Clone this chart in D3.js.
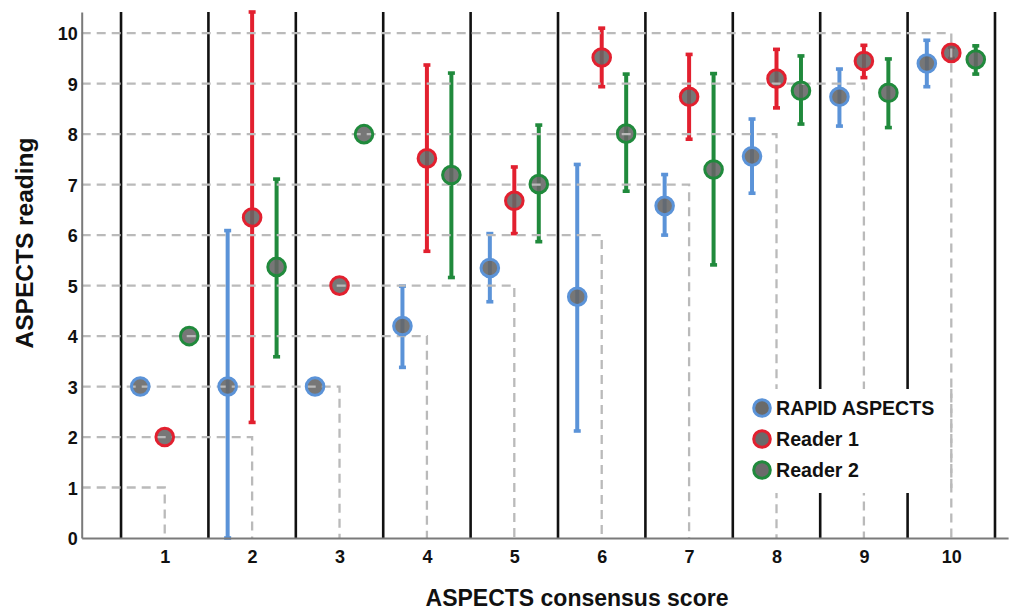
<!DOCTYPE html>
<html>
<head>
<meta charset="utf-8">
<script src="https://cdn.jsdelivr.net/npm/d3@7"></script>
<style>
  html, body { margin: 0; padding: 0; background: #fff; }
  svg { display: block; }
  text { font-family: "Liberation Sans", Arial, sans-serif; font-weight: bold; fill: #111; }
</style>
</head>
<body>
<svg id="chart" width="1023" height="612"></svg>
<script>
// ---- data ----
const categories = [1, 2, 3, 4, 5, 6, 7, 8, 9, 10];
const seriesNames = ["RAPID ASPECTS", "Reader 1", "Reader 2"];

const rapidMean = [3.0, 3.0, 3.0, 4.2, 5.35, 4.78, 6.58, 7.56, 8.74, 9.4];
const rapidLow  = [null, 0.0, null, 3.38, 4.68, 2.12, 6.0, 6.83, 8.16, 8.94];
const rapidHigh = [null, 6.09, null, 4.99, 6.03, 7.4, 7.2, 8.3, 9.29, 9.86];

const reader1Mean = [2.0, 6.35, 5.0, 7.52, 6.68, 9.52, 8.74, 9.1, 9.45, 9.61];
const reader1Low  = [null, 2.29, null, 5.68, 6.03, 8.94, 7.9, 8.52, 9.12, 9.5];
const reader1High = [null, 10.42, null, 9.37, 7.35, 10.1, 9.58, 9.68, 9.76, 9.72];

const reader2Mean = [4.0, 5.37, 8.0, 7.19, 7.01, 8.01, 7.3, 8.86, 8.82, 9.48];
const reader2Low  = [null, 3.59, null, 5.16, 5.87, 6.87, 5.41, 8.2, 8.13, 9.19];
const reader2High = [null, 7.11, null, 9.21, 8.18, 9.19, 9.2, 9.55, 9.49, 9.75];

const yTicks = [0, 1, 2, 3, 4, 5, 6, 7, 8, 9, 10];
const separators = [0.5, 1.5, 2.5, 3.5, 4.5, 5.5, 6.5, 7.5, 8.5, 9.5, 10.5];

// ---- style ----
const colors = ["#5b93d8", "#e2202f", "#208a3c"];
const offsets = [-0.28, 0, 0.28];

const svg = d3.select("#chart");
const x = d3.scaleLinear().domain([0.05, 10.65]).range([81.7, 1008.1]);
const y = d3.scaleLinear().domain([0, 10.42]).range([538, 12]);

const series = [
  { name: seriesNames[0], mean: rapidMean, low: rapidLow, high: rapidHigh },
  { name: seriesNames[1], mean: reader1Mean, low: reader1Low, high: reader1High },
  { name: seriesNames[2], mean: reader2Mean, low: reader2Low, high: reader2High }
];

const points = [];
series.forEach((s, si) => {
  categories.forEach((c, i) => {
    points.push({ si, c, xv: c + offsets[si], m: s.mean[i], lo: s.low[i], hi: s.high[i] });
  });
});

// separators (black vertical lines)
svg.append("g").selectAll("line").data(separators).join("line")
  .attr("x1", d => x(d)).attr("x2", d => x(d))
  .attr("y1", y(10.42)).attr("y2", y(0))
  .attr("stroke", "#111").attr("stroke-width", 2.6);

// error bars
const eb = svg.append("g");
const bars = points.filter(p => p.lo !== null);
eb.selectAll("line.bar").data(bars).join("line")
  .attr("class", "bar")
  .attr("x1", d => x(d.xv)).attr("x2", d => x(d.xv))
  .attr("y1", d => y(d.lo)).attr("y2", d => y(d.hi))
  .attr("stroke", d => colors[d.si]).attr("stroke-width", 4);
const caps = [];
bars.forEach(b => { caps.push({ si: b.si, xv: b.xv, v: b.lo }); caps.push({ si: b.si, xv: b.xv, v: b.hi }); });
eb.selectAll("rect.cap").data(caps).join("rect")
  .attr("class", "cap")
  .attr("x", d => x(d.xv) - 3.5).attr("y", d => y(d.v) - 1.8)
  .attr("width", 7).attr("height", 3.6)
  .attr("fill", d => colors[d.si]);

// marker fills
svg.append("g").selectAll("circle").data(points).join("circle")
  .attr("cx", d => x(d.xv)).attr("cy", d => y(d.m)).attr("r", 8.8)
  .attr("fill", "#646464").attr("fill-opacity", 0.88);

// staircase dashed grid
const grid = svg.append("g")
  .attr("fill", "none").attr("stroke", "#bababa").attr("stroke-width", 2.3)
  .attr("stroke-dasharray", "9,6");
grid.selectAll("path").data(yTicks.filter(d => d > 0)).join("path")
  .attr("d", d => `M${x(0.05)},${y(d)}H${x(d)}V${y(0)}`);

// marker rings
svg.append("g").selectAll("circle").data(points).join("circle")
  .attr("cx", d => x(d.xv)).attr("cy", d => y(d.m)).attr("r", 8.8)
  .attr("fill", "none").attr("stroke", d => colors[d.si]).attr("stroke-width", 3);

// legend
const lg = svg.append("g");
lg.append("rect").attr("x", 745).attr("y", 389).attr("width", 196).attr("height", 104).attr("fill", "#fff");
// dashed vertical for 10 stays visible over legend box
lg.append("line").attr("x1", x(10)).attr("x2", x(10)).attr("y1", 389).attr("y2", 493)
  .attr("stroke", "#bababa").attr("stroke-width", 2.3).attr("stroke-dasharray", "9,6");
seriesNames.forEach((n, i) => {
  const cy = 408 + i * 31;
  lg.append("circle").attr("cx", 762).attr("cy", cy).attr("r", 8.3)
    .attr("fill", "#6a6a6a").attr("stroke", colors[i]).attr("stroke-width", 3);
  lg.append("text").attr("x", 776).attr("y", cy + 7).attr("font-size", 19.6).text(n);
});

// axes
const yAxis = svg.append("g").attr("transform", `translate(${x(0.05)},0)`)
  .call(d3.axisLeft(y).tickValues(yTicks).tickSize(0).tickPadding(4).tickFormat(d3.format("d")));
yAxis.select(".domain").attr("stroke", "#7a7a7a").attr("stroke-width", 2);
yAxis.selectAll("text").attr("font-size", 18).attr("dy", "0.36em");

const xAxis = svg.append("g").attr("transform", `translate(0,${y(0)})`)
  .call(d3.axisBottom(x).tickValues(categories).tickSize(0).tickPadding(12).tickFormat(d3.format("d")));
xAxis.select(".domain").attr("stroke", "#7a7a7a").attr("stroke-width", 2);
xAxis.selectAll("text").attr("font-size", 18);

// titles
svg.append("text").attr("x", 577).attr("y", 606).attr("text-anchor", "middle")
  .attr("font-size", 23).text("ASPECTS consensus score");
svg.append("text").attr("transform", "translate(33,243) rotate(-90)").attr("text-anchor", "middle")
  .attr("font-size", 24.5).text("ASPECTS reading");
</script>
</body>
</html>
